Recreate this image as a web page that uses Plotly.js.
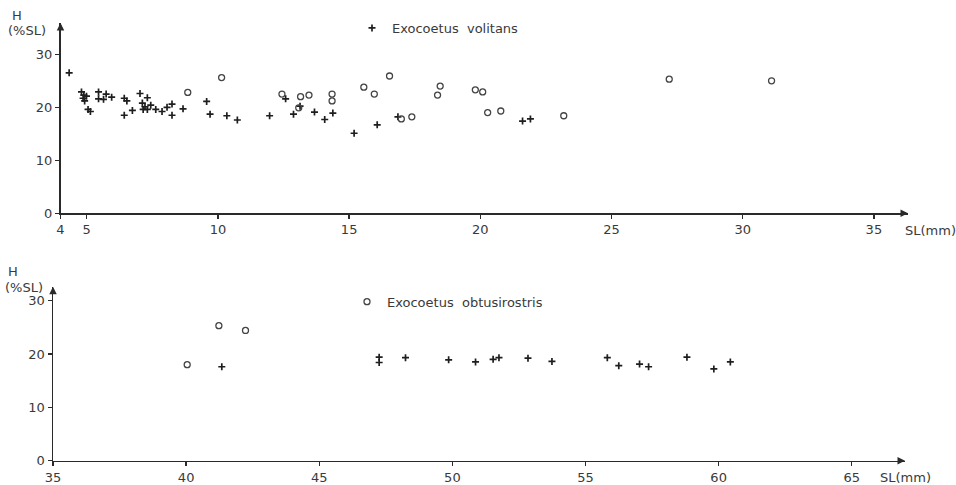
<!DOCTYPE html>
<html>
<head>
<meta charset="utf-8">
<script src="https://cdn.plot.ly/plotly-3.0.1.min.js"></script>
<style>html,body{margin:0;padding:0;background:#fff;}#chart{width:956px;height:485px;}</style>
</head>
<body>
<div id="chart"></div>
<script>
// ---- Data ----
// Upper panel: small specimens, SL 4-36 mm
const volitansSmallSL = [4.33,4.80,4.89,4.99,4.86,4.92,5.05,5.14,5.45,5.45,5.64,5.74,5.95,6.43,6.53,6.43,6.74,7.03,7.12,7.31,7.22,7.31,7.44,7.15,7.63,7.87,8.06,8.25,8.25,8.67,9.57,9.70,10.34,10.74,11.97,12.58,12.88,13.13,13.68,14.07,14.38,15.19,16.07,16.86,21.61,21.91];
const volitansSmallH  = [26.5,22.9,22.3,22.1,21.7,21.2,19.6,19.2,22.9,21.6,21.5,22.5,21.9,21.7,21.2,18.5,19.4,22.6,20.8,21.8,20.1,19.6,20.4,19.6,19.6,19.2,20.0,20.6,18.5,19.7,21.1,18.7,18.4,17.6,18.4,21.6,18.7,20.2,19.1,17.7,18.9,15.1,16.7,18.2,17.4,17.8];
const obtusiSmallSL = [8.85,10.14,12.44,13.15,13.47,13.08,14.35,14.35,15.56,15.96,16.54,16.99,17.39,18.37,18.47,19.81,20.09,20.28,20.78,23.18,27.2,31.1];
const obtusiSmallH  = [22.8,25.6,22.5,22.0,22.3,19.9,22.5,21.2,23.8,22.5,25.9,17.8,18.2,22.3,24.0,23.3,22.9,19.0,19.3,18.4,25.3,25.0];
// Lower panel: larger specimens, SL 35-67 mm
const obtusiLargeSL = [40.04,41.23,42.23];
const obtusiLargeH  = [18.0,25.3,24.4];
const volitansLargeSL = [41.34,47.25,47.25,48.24,49.86,50.87,51.53,51.75,52.84,53.74,55.82,56.25,57.03,57.37,58.81,59.82,60.44];
const volitansLargeH  = [17.6,19.4,18.4,19.3,18.9,18.5,19.0,19.3,19.2,18.6,19.3,17.8,18.1,17.6,19.4,17.2,18.5];
// Tick labels
const topXTicks = [4,5,10,15,20,25,30,35];
const botXTicks = [35,40,45,50,55,60,65];
const yTicks = [0,10,20,30];
const nameVolitans = 'Exocoetus  volitans';
const nameObtusi = 'Exocoetus  obtusirostris';

// ---- Styling ----
const W = 956, H = 485;
const ink = '#2a2a2a';
const txt = '#3a3a3a';
const font = {family: 'DejaVu Sans, Liberation Sans, sans-serif', size: 13, color: txt};
const plusMarker = {symbol: 'cross-thin-open', size: 5, line: {width: 1.7, color: '#1e1e1e'}, color: '#1e1e1e'};
const circMarker = {symbol: 'circle-open', size: 6, line: {width: 1.3, color: '#444'}, color: '#444'};

const px = v => v / W;
const py = v => 1 - v / H;

const traces = [
  {x: volitansSmallSL, y: volitansSmallH, mode: 'markers', type: 'scatter', name: nameVolitans,
   marker: plusMarker, xaxis: 'x', yaxis: 'y', showlegend: true, legend: 'legend'},
  {x: obtusiSmallSL, y: obtusiSmallH, mode: 'markers', type: 'scatter', name: nameObtusi,
   marker: circMarker, xaxis: 'x', yaxis: 'y', showlegend: false},
  {x: volitansLargeSL, y: volitansLargeH, mode: 'markers', type: 'scatter', name: nameVolitans,
   marker: plusMarker, xaxis: 'x2', yaxis: 'y2', showlegend: false},
  {x: obtusiLargeSL, y: obtusiLargeH, mode: 'markers', type: 'scatter', name: nameObtusi,
   marker: circMarker, xaxis: 'x2', yaxis: 'y2', showlegend: true, legend: 'legend2'}
];

const axisCommon = {
  showgrid: false, zeroline: false, showline: true, linecolor: ink, linewidth: 1.5,
  ticks: 'outside', ticklen: 4, tickwidth: 1.3, tickcolor: ink, tickfont: font,
  fixedrange: true
};

const layout = {
  width: W, height: H,
  margin: {l: 0, r: 0, t: 0, b: 0},
  paper_bgcolor: '#fff', plot_bgcolor: '#fff',
  font: font,
  xaxis: Object.assign({}, axisCommon, {domain: [px(60.5), px(908)], range: [4, 36.3],
    tickvals: topXTicks, ticktext: topXTicks.map(String), anchor: 'y'}),
  yaxis: Object.assign({}, axisCommon, {domain: [py(213.3), py(23)], range: [0, 35.9],
    tickvals: yTicks, ticktext: yTicks.map(String), anchor: 'x'}),
  xaxis2: Object.assign({}, axisCommon, {domain: [px(53), px(905)], range: [35, 67],
    tickvals: botXTicks, ticktext: botXTicks.map(String), anchor: 'y2'}),
  yaxis2: Object.assign({}, axisCommon, {domain: [py(460.7), py(286.7)], range: [0, 32.6],
    tickvals: yTicks, ticktext: yTicks.map(String), anchor: 'x2'}),
  legend: {x: px(352), y: py(28), xanchor: 'left', yanchor: 'middle', bgcolor: 'rgba(0,0,0,0)',
    font: font, itemwidth: 30, borderwidth: 0},
  legend2: {x: px(347), y: py(301.7), xanchor: 'left', yanchor: 'middle', bgcolor: 'rgba(0,0,0,0)',
    font: font, itemwidth: 30, borderwidth: 0},
  annotations: [
    {xref: 'paper', yref: 'paper', x: px(10), y: py(15), text: 'H', showarrow: false, xanchor: 'left', yanchor: 'middle', font: font},
    {xref: 'paper', yref: 'paper', x: px(6), y: py(31), text: '(%SL)', showarrow: false, xanchor: 'left', yanchor: 'middle', font: font},
    {xref: 'paper', yref: 'paper', x: px(6), y: py(271), text: 'H', showarrow: false, xanchor: 'left', yanchor: 'middle', font: font},
    {xref: 'paper', yref: 'paper', x: px(3), y: py(287), text: '(%SL)', showarrow: false, xanchor: 'left', yanchor: 'middle', font: font},
    {xref: 'paper', yref: 'paper', x: px(903), y: py(230), text: 'SL(mm)', showarrow: false, xanchor: 'left', yanchor: 'middle', font: font},
    {xref: 'paper', yref: 'paper', x: px(878), y: py(477), text: 'SL(mm)', showarrow: false, xanchor: 'left', yanchor: 'middle', font: font},
    // axis arrowheads
    {xref: 'x', yref: 'y', x: 36.3, y: 0, ax: -8, ay: 0, text: '', showarrow: true, arrowhead: 2, arrowsize: 1, arrowwidth: 1.5, arrowcolor: ink},
    {xref: 'x', yref: 'y', x: 4, y: 35.9, ax: 0, ay: 8, text: '', showarrow: true, arrowhead: 2, arrowsize: 1, arrowwidth: 1.5, arrowcolor: ink},
    {xref: 'x2', yref: 'y2', x: 67, y: 0, ax: -8, ay: 0, text: '', showarrow: true, arrowhead: 2, arrowsize: 1, arrowwidth: 1.5, arrowcolor: ink},
    {xref: 'x2', yref: 'y2', x: 35, y: 32.6, ax: 0, ay: 8, text: '', showarrow: true, arrowhead: 2, arrowsize: 1, arrowwidth: 1.5, arrowcolor: ink}
  ]
};

Plotly.newPlot('chart', traces, layout, {displayModeBar: false, staticPlot: true});
</script>
</body>
</html>
